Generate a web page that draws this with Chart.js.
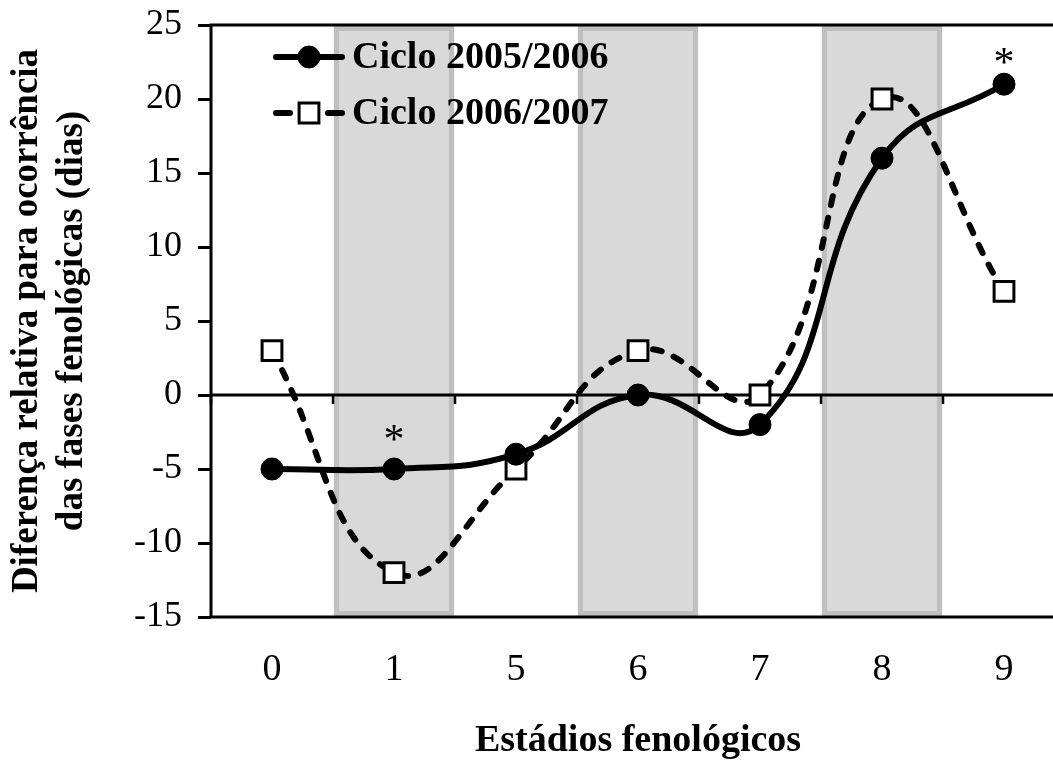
<!DOCTYPE html>
<html><head><meta charset="utf-8">
<script src="https://cdn.jsdelivr.net/npm/chart.js@4/dist/chart.umd.min.js"></script>
<style>html,body{margin:0;padding:0;background:#fff;overflow:hidden;width:1053px;height:760px}canvas{display:block}</style>
</head><body><canvas id="c" width="1082" height="760" style="width:1082px;height:760px"></canvas>
<script>
// ---- data ----
const categories = ['0', '1', '5', '6', '7', '8', '9'];
const ciclo20052006 = [-5, -5, -4, 0, -2, 16, 21];
const ciclo20062007 = [3, -12, -5, 3, 0, 20, 7];
const shadedStages = ['1', '6', '8'];
const asteriskValues = [null, -2.5, null, null, null, null, 23];
const yMin = -15, yMax = 25, yStep = 5;
const seriesNames = ['Ciclo 2005/2006', 'Ciclo 2006/2007'];
const xTitle = 'Estádios fenológicos';
const yTitle = ['Diferença relativa para ocorrência', 'das fases fenológicas (dias)'];

const SERIF = '"Liberation Serif", "Times New Roman", serif';
Chart.defaults.color = '#000';
Chart.defaults.font.family = SERIF;

const shadeData = categories.map(c => shadedStages.includes(c) ? [yMin, yMax] : null);

const decor = {
  id: 'decor',
  afterDatasetDraw(chart, args) {
    if (args.meta.type !== 'bar') return;
    const {ctx, chartArea: a, scales: {x, y}} = chart;
    const y0 = y.getPixelForValue(0);
    ctx.save();
    ctx.strokeStyle = '#000';
    ctx.lineWidth = 3;
    ctx.beginPath(); ctx.moveTo(a.left, y0); ctx.lineTo(a.right, y0); ctx.stroke();
    ctx.lineWidth = 2.5;
    const n = categories.length;
    for (let k = 0; k <= n; k++) {
      const px = k === 0 ? a.left : k === n ? a.right : (x.getPixelForValue(k - 1) + x.getPixelForValue(k)) / 2;
      ctx.beginPath(); ctx.moveTo(px, y0); ctx.lineTo(px, y0 + 9); ctx.stroke();
    }
    ctx.restore();
  },
  afterDatasetsDraw(chart) {
    const {ctx, chartArea: a, scales: {x, y}} = chart;
    ctx.save();
    // asterisks
    ctx.fillStyle = '#000';
    ctx.font = '42px ' + SERIF;
    ctx.textAlign = 'center';
    ctx.textBaseline = 'middle';
    asteriskValues.forEach((v, i) => {
      if (v === null) return;
      ctx.fillText('*', x.getPixelForValue(i), y.getPixelForValue(v) + 10);
    });
    // plot border
    ctx.strokeStyle = '#000';
    ctx.lineWidth = 3;
    ctx.strokeRect(a.left, a.top, a.right - a.left, a.bottom - a.top);
    // legend
    const ds = chart.data.datasets.filter(d => d.type === 'line');
    ds.forEach((d, i) => {
      const cy = a.top + 32 + i * 56;
      const x1 = a.left + 65, x2 = a.left + 131, mx = a.left + 98;
      ctx.strokeStyle = '#000';
      ctx.lineWidth = d.borderWidth;
      ctx.lineCap = 'round';
      ctx.beginPath();
      if (d.borderDash && d.borderDash.length) {
        ctx.moveTo(x1, cy); ctx.lineTo(x1 + 14, cy);
        ctx.moveTo(x2 - 14, cy); ctx.lineTo(x2, cy);
      } else {
        ctx.moveTo(x1, cy); ctx.lineTo(x2, cy);
      }
      ctx.stroke();
      ctx.lineWidth = d.pointBorderWidth;
      ctx.fillStyle = d.pointBackgroundColor;
      ctx.beginPath();
      if (d.pointStyle === 'rect') {
        const s = d.pointRadius * Math.SQRT1_2;
        ctx.rect(mx - s, cy - s, 2 * s, 2 * s);
      } else {
        ctx.arc(mx, cy, d.pointRadius, 0, Math.PI * 2);
      }
      ctx.fill(); ctx.stroke();
      ctx.fillStyle = '#000';
      ctx.font = 'bold 38px ' + SERIF;
      ctx.textAlign = 'left';
      ctx.textBaseline = 'middle';
      ctx.fillText(d.label, a.left + 141, cy + 1);
    });
    ctx.restore();
  }
};

new Chart(document.getElementById('c'), {
  data: {
    labels: categories,
    datasets: [
      {
        type: 'line', label: seriesNames[0], data: ciclo20052006, order: 1,
        borderColor: '#000', borderWidth: 6, tension: 0.45,
        pointStyle: 'circle', pointRadius: 11, pointBackgroundColor: '#000',
        pointBorderColor: '#000', pointBorderWidth: 1
      },
      {
        type: 'line', label: seriesNames[1], data: ciclo20062007, order: 2,
        borderColor: '#000', borderWidth: 6, borderDash: [9, 13], borderCapStyle: 'round', tension: 0.45,
        pointStyle: 'rect', pointRadius: 14, pointBackgroundColor: '#fff',
        pointBorderColor: '#000', pointBorderWidth: 3
      },
      {
        type: 'bar', label: 'shade', data: shadeData, order: 3,
        backgroundColor: '#d9d9d9', borderColor: '#bfbfbf', borderWidth: 6, borderSkipped: false,
        barPercentage: 0.99, categoryPercentage: 1
      }
    ]
  },
  options: {
    responsive: false,
    animation: false,
    devicePixelRatio: 1,
    layout: {padding: {top: 25, right: 2, left: 0, bottom: 0}},
    plugins: {legend: {display: false}, tooltip: {enabled: false}},
    scales: {
      x: {
        type: 'category',
        offset: true,
        grid: {display: false, drawTicks: false},
        border: {display: false},
        ticks: {padding: 30, font: {size: 38, family: SERIF}, color: '#000'},
        title: {display: true, text: xTitle, font: {size: 38, weight: 'bold', family: SERIF, lineHeight: 1.0}, padding: {top: 0, bottom: 0}, color: '#000'},
        afterFit(s) { s.height = 143; }
      },
      y: {
        min: yMin, max: yMax,
        ticks: {stepSize: yStep, padding: 16, font: {size: 36, family: SERIF}, color: '#000'},
        grid: {display: true, drawOnChartArea: false, drawTicks: true, tickLength: 13, tickColor: '#000', tickWidth: 3},
        border: {display: false},
        title: {display: true, text: yTitle, font: {size: 37, weight: 'bold', family: SERIF, lineHeight: 1.22}, padding: {top: 5, bottom: 0}, color: '#000'},
        afterFit(s) { s.width = 211; s.paddingTop = 0; s.paddingBottom = 0; }
      }
    }
  },
  plugins: [decor]
});
</script>
</body></html>
